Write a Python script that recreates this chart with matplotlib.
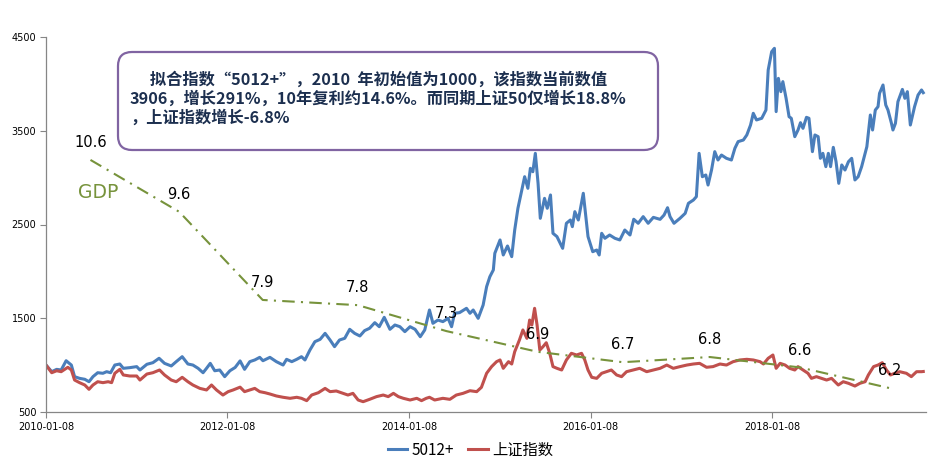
import matplotlib
matplotlib.use('Agg')
import matplotlib.pyplot as plt
import matplotlib.dates as mdates
from matplotlib.patches import FancyBboxPatch
import pandas as pd

plt.rcParams['font.family'] = ['DejaVu Sans', 'Noto Sans CJK SC']

# 5012+ index (weekly closes)
blue_dates = [
    '2010-01-08', '2010-01-31', '2010-02-20', '2010-03-10', '2010-03-30', '2010-04-20', '2010-05-03', '2010-05-23', '2010-06-13', '2010-06-30',
    '2010-07-16', '2010-08-04', '2010-08-25', '2010-09-09', '2010-09-25', '2010-10-12', '2010-11-01', '2010-11-15', '2010-12-11', '2011-01-08',
    '2011-01-21', '2011-02-18', '2011-03-14', '2011-04-08', '2011-04-30', '2011-05-27', '2011-06-16', '2011-07-10', '2011-08-02', '2011-08-22',
    '2011-09-12', '2011-10-02', '2011-10-16', '2011-10-31', '2011-11-18', '2011-12-08', '2011-12-28', '2012-01-18', '2012-02-08', '2012-02-28',
    '2012-03-17', '2012-04-07', '2012-04-27', '2012-05-17', '2012-05-30', '2012-06-27', '2012-07-23', '2012-08-19', '2012-09-02', '2012-09-23',
    '2012-10-13', '2012-11-01', '2012-11-15', '2012-12-05', '2012-12-25', '2013-01-15', '2013-02-04', '2013-02-24', '2013-03-14', '2013-04-03',
    '2013-04-24', '2013-05-14', '2013-06-03', '2013-06-24', '2013-07-13', '2013-08-02', '2013-08-23', '2013-09-10', '2013-09-30', '2013-10-23',
    '2013-11-12', '2013-12-02', '2013-12-22', '2014-01-12', '2014-02-01', '2014-02-22', '2014-03-12', '2014-03-31', '2014-04-14', '2014-05-04',
    '2014-05-24', '2014-06-14', '2014-06-28', '2014-07-10', '2014-07-30', '2014-08-27', '2014-09-10', '2014-09-23', '2014-10-13', '2014-11-02',
    '2014-11-16', '2014-11-29', '2014-12-13', '2014-12-19', '2015-01-09', '2015-01-22', '2015-02-08', '2015-02-25', '2015-03-09', '2015-03-22',
    '2015-04-04', '2015-04-18', '2015-05-01', '2015-05-11', '2015-05-21', '2015-05-31', '2015-06-11', '2015-06-20', '2015-07-07', '2015-07-18',
    '2015-07-31', '2015-08-10', '2015-08-26', '2015-09-18', '2015-10-03', '2015-10-19', '2015-10-27', '2015-11-06', '2015-11-20', '2015-12-10',
    '2015-12-29', '2016-01-17', '2016-02-02', '2016-02-12', '2016-02-22', '2016-03-06', '2016-03-25', '2016-04-15', '2016-05-05', '2016-05-25',
    '2016-06-15', '2016-06-30', '2016-07-18', '2016-08-07', '2016-08-27', '2016-09-17', '2016-10-14', '2016-10-30', '2016-11-13', '2016-11-23',
    '2016-12-09', '2017-01-02', '2017-01-23', '2017-02-05', '2017-02-25', '2017-03-09', '2017-03-20', '2017-04-02', '2017-04-16', '2017-04-25',
    '2017-05-09', '2017-05-22', '2017-06-04', '2017-06-18', '2017-07-08', '2017-07-28', '2017-08-11', '2017-08-24', '2017-09-14', '2017-09-28',
    '2017-10-13', '2017-10-24', '2017-11-06', '2017-11-27', '2017-12-14', '2017-12-23', '2018-01-06', '2018-01-17', '2018-01-24', '2018-02-02',
    '2018-02-12', '2018-02-20', '2018-03-05', '2018-03-17', '2018-03-26', '2018-04-09', '2018-04-22', '2018-05-02', '2018-05-12', '2018-05-26',
    '2018-06-05', '2018-06-19', '2018-06-29', '2018-07-12', '2018-07-21', '2018-07-31', '2018-08-12', '2018-08-22', '2018-08-31', '2018-09-11',
    '2018-09-22', '2018-10-03', '2018-10-15', '2018-10-28', '2018-11-11', '2018-11-24', '2018-12-07', '2018-12-20', '2019-01-03', '2019-01-24',
    '2019-02-07', '2019-02-16', '2019-02-27', '2019-03-10', '2019-03-16', '2019-03-30', '2019-04-10', '2019-04-19', '2019-05-03', '2019-05-09',
    '2019-05-19', '2019-05-29', '2019-06-16', '2019-06-26', '2019-07-06', '2019-07-18', '2019-08-04', '2019-08-18', '2019-09-01', '2019-09-08']
blue_vals = [
    1001, 930, 955, 948, 1047, 1001, 877, 859, 849, 823,
    877, 919, 913, 930, 919, 1001, 1012, 966, 973, 984,
    948, 1009, 1026, 1073, 1019, 991, 1037, 1090, 1012, 1001,
    966, 919, 966, 1019, 940, 948, 877, 940, 975, 1045,
    955, 1037, 1055, 1083, 1047, 1083, 1037, 1001, 1062, 1037,
    1062, 1090, 1055, 1161, 1250, 1275, 1339, 1268, 1197, 1268,
    1286, 1382, 1339, 1311, 1368, 1393, 1453, 1410, 1510, 1382,
    1428, 1410, 1357, 1410, 1382, 1303, 1375, 1588, 1446, 1481,
    1464, 1499, 1410, 1553, 1560, 1606, 1553, 1588, 1499, 1641,
    1837, 1943, 2015, 2193, 2335, 2175, 2271, 2157, 2441, 2673,
    2833, 3010, 2886, 3099, 3063, 3259, 2939, 2566, 2779, 2673,
    2815, 2406, 2371, 2246, 2513, 2548, 2477, 2637, 2548, 2833,
    2371, 2210, 2228, 2175, 2406, 2353, 2388, 2353, 2335, 2441,
    2388, 2556, 2513, 2584, 2513, 2576, 2555, 2601, 2679, 2584,
    2513, 2566, 2619, 2726, 2761, 2797, 3259, 3010, 3028, 2921,
    3081, 3277, 3188, 3241, 3206, 3188, 3313, 3384, 3401, 3455,
    3561, 3686, 3615, 3633, 3721, 4148, 4343, 4379, 3704, 4059,
    3917, 4024, 3846, 3650, 3633, 3437, 3508, 3586, 3526, 3643,
    3633, 3277, 3455, 3437, 3206, 3259, 3117, 3259, 3117, 3323,
    3170, 2939, 3135, 3081, 3170, 3206, 2975, 3010, 3117, 3330,
    3668, 3508, 3721, 3757, 3899, 3988, 3775, 3721, 3579, 3508,
    3579, 3810, 3941, 3846, 3917, 3561, 3757, 3881, 3935, 3906]

# 上证指数, rebased to 1000 at 2010-01-08
red_dates = [
    '2010-01-08', '2010-01-31', '2010-02-20', '2010-03-10', '2010-04-06', '2010-04-20', '2010-05-03', '2010-05-23', '2010-06-13', '2010-06-30',
    '2010-07-16', '2010-08-04', '2010-08-25', '2010-09-15', '2010-09-29', '2010-10-12', '2010-11-01', '2010-11-15', '2010-12-11', '2011-01-08',
    '2011-01-21', '2011-02-18', '2011-03-14', '2011-04-10', '2011-04-30', '2011-05-27', '2011-06-16', '2011-07-10', '2011-08-02', '2011-08-22',
    '2011-09-19', '2011-10-16', '2011-11-05', '2011-11-25', '2011-12-21', '2012-01-11', '2012-01-31', '2012-02-28', '2012-03-17', '2012-04-07',
    '2012-04-27', '2012-05-17', '2012-06-07', '2012-06-27', '2012-07-23', '2012-08-19', '2012-09-16', '2012-10-13', '2012-11-01', '2012-11-22',
    '2012-12-12', '2013-01-08', '2013-02-04', '2013-02-24', '2013-03-21', '2013-04-17', '2013-05-07', '2013-05-27', '2013-06-17', '2013-07-07',
    '2013-08-02', '2013-08-30', '2013-09-26', '2013-10-16', '2013-11-06', '2013-11-26', '2013-12-16', '2014-01-12', '2014-02-08', '2014-02-27',
    '2014-03-18', '2014-03-31', '2014-04-21', '2014-05-24', '2014-06-21', '2014-07-17', '2014-08-13', '2014-09-10', '2014-10-07', '2014-10-26',
    '2014-11-16', '2014-12-06', '2014-12-26', '2015-01-09', '2015-01-22', '2015-02-12', '2015-02-25', '2015-03-09', '2015-03-28', '2015-04-11',
    '2015-04-27', '2015-05-08', '2015-05-17', '2015-05-28', '2015-06-07', '2015-06-18', '2015-07-01', '2015-07-14', '2015-07-28', '2015-08-10',
    '2015-08-26', '2015-09-14', '2015-10-03', '2015-10-23', '2015-11-13', '2015-12-03', '2015-12-16', '2015-12-29', '2016-01-13', '2016-02-02',
    '2016-02-22', '2016-03-12', '2016-04-01', '2016-04-22', '2016-05-12', '2016-06-01', '2016-06-28', '2016-07-24', '2016-08-21', '2016-09-17',
    '2016-10-14', '2016-11-10', '2016-12-06', '2017-01-02', '2017-01-30', '2017-02-25', '2017-03-22', '2017-04-19', '2017-05-15', '2017-06-12',
    '2017-07-08', '2017-08-04', '2017-08-31', '2017-09-28', '2017-10-24', '2017-11-20', '2017-12-04', '2017-12-23', '2018-01-11', '2018-01-24',
    '2018-02-09', '2018-03-01', '2018-03-19', '2018-04-09', '2018-04-22', '2018-05-12', '2018-06-01', '2018-06-15', '2018-07-05', '2018-07-25',
    '2018-08-15', '2018-09-04', '2018-09-18', '2018-10-01', '2018-10-21', '2018-11-11', '2018-12-07', '2018-12-27', '2019-01-17', '2019-01-30',
    '2019-02-20', '2019-03-10', '2019-03-27', '2019-04-13', '2019-04-29', '2019-05-16', '2019-06-05', '2019-07-02', '2019-07-22', '2019-08-12',
    '2019-09-01', '2019-09-08']
red_vals = [
    1001, 919, 940, 930, 977, 948, 841, 813, 788, 742,
    788, 823, 813, 823, 813, 913, 955, 895, 884, 884,
    841, 905, 919, 948, 895, 841, 823, 870, 823, 788,
    752, 735, 788, 735, 681, 717, 735, 765, 717, 735,
    752, 717, 706, 692, 671, 657, 646, 657, 646, 621,
    681, 706, 752, 717, 724, 699, 681, 699, 628, 610,
    635, 664, 681, 664, 699, 664, 646, 628, 646, 621,
    646, 657, 628, 646, 635, 681, 699, 727, 717, 763,
    913, 984, 1037, 1055, 966, 1037, 1012, 1143, 1268, 1375,
    1286, 1481, 1428, 1606, 1428, 1161, 1197, 1239, 1126, 984,
    966, 948, 1055, 1126, 1108, 1126, 1055, 948, 870, 859,
    913, 930, 948, 895, 877, 930, 948, 966, 930, 948,
    966, 1001, 966, 984, 1001, 1012, 1019, 977, 984, 1012,
    1001, 1037, 1055, 1062, 1055, 1037, 1012, 1073, 1108, 966,
    1019, 1001, 966, 948, 984, 948, 913, 859, 877, 859,
    841, 859, 823, 788, 823, 806, 777, 806, 823, 895,
    984, 1001, 1026, 948, 895, 913, 930, 913, 877, 930,
    930, 932]

# annual GDP growth (%)
gdp_dates = ['2010-07-06', '2011-06-28', '2012-05-29', '2013-06-16', '2014-06-07',
             '2015-06-10', '2016-05-17', '2017-05-02', '2018-04-29', '2019-04-26']
gdp_vals = [10.6, 9.6, 7.9, 7.8, 7.3, 6.9, 6.7, 6.8, 6.6, 6.2]

tick_dates = ['2010-01-08', '2012-01-08', '2014-01-08', '2016-01-08', '2018-01-08']
y_ticks = [500, 1500, 2500, 3500, 4500]

note = ('\u3000 拟合指数“5012+”，2010  年初始值为1000，该指数当前数值\n'
        '3906，增长291%，10年复利约14.6%。而同期上证50仅增长18.8%\n'
        '，上证指数增长-6.8%')

BLUE = '#4a7ebb'
RED = '#c0504d'
OLIVE = '#77933c'
AXIS = '#868686'

fig = plt.figure(figsize=(9.3, 4.63), dpi=100)
ax = fig.add_axes([46 / 930, 1 - 412 / 463, 880 / 930, 375 / 463])

ax.plot(pd.to_datetime(blue_dates), blue_vals, color=BLUE, lw=2.2, label='5012+')
ax.plot(pd.to_datetime(red_dates), red_vals, color=RED, lw=2.2, label='上证指数')

ax.set_ylim(500, 4500)
ax.set_yticks(y_ticks)
ax.set_xlim(pd.Timestamp('2010-01-08'), pd.Timestamp('2019-09-19'))
ax.set_xticks(pd.to_datetime(tick_dates))
ax.xaxis.set_major_formatter(mdates.DateFormatter('%Y-%m-%d'))

for s in ['top', 'right']:
    ax.spines[s].set_visible(False)
for s in ['left', 'bottom']:
    ax.spines[s].set_color(AXIS)
    ax.spines[s].set_linewidth(0.9)
ax.tick_params(direction='out', length=4, color=AXIS, labelsize=7, pad=3)

# GDP on a hidden secondary axis
ax2 = ax.twinx()
ax2.set_ylim(5.74, 12.97)
ax2.axis('off')
ax2.plot(pd.to_datetime(gdp_dates), gdp_vals, color=OLIVE, lw=1.5, dashes=(6, 3, 1, 3))
for d, v in zip(pd.to_datetime(gdp_dates), gdp_vals):
    ax2.annotate(f'{v}', (d, v), xytext=(0, 12.5), textcoords='offset points',
                 ha='center', va='center', fontsize=10.5, color='black')

fig.text(98 / 930, 1 - 193 / 463, 'GDP', color=OLIVE, fontsize=13.5, ha='center', va='center')

# note box
ov = fig.add_axes([0, 0, 1, 1])
ov.set_xlim(0, 930)
ov.set_ylim(463, 0)
ov.axis('off')
ov.add_patch(FancyBboxPatch((118, 52), 540, 98, boxstyle='round,pad=0,rounding_size=14',
                            ec='#8064a2', fc='white', lw=1.6))
ov.text(130, 71, note, ha='left', va='top', fontsize=11.7, fontweight='bold',
        color='#1c2f4f', family=['Noto Sans CJK SC'], linespacing=1.2)

h, l = ax.get_legend_handles_labels()
fig.legend(h, l, loc='center', bbox_to_anchor=(0.506, 0.028), ncol=2, frameon=False,
           handlelength=1.3, handletextpad=0.3, columnspacing=0.9,
           prop={'family': ['Noto Sans CJK SC'], 'size': 11})

fig.savefig('out.png', dpi=100)
